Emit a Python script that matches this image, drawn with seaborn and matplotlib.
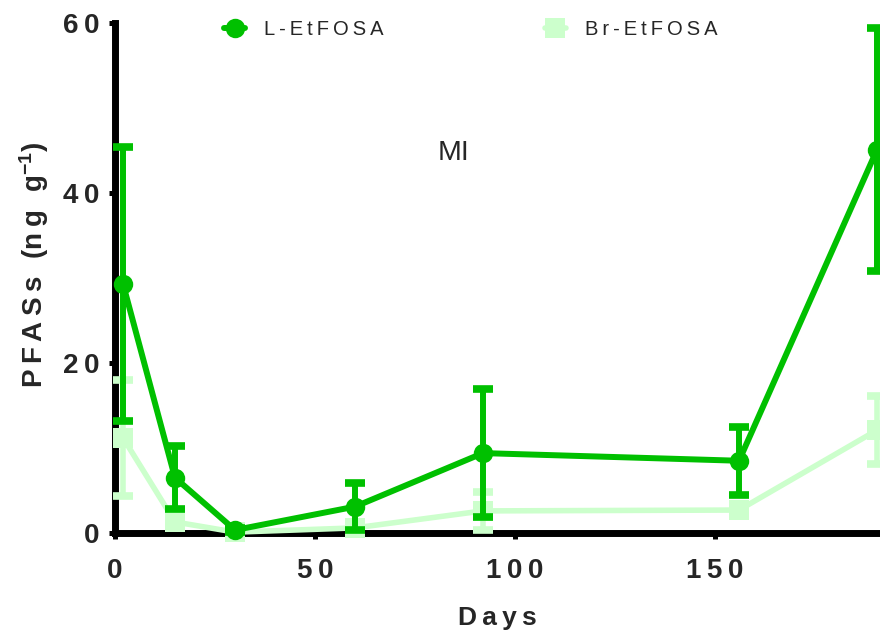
import numpy as np
import pandas as pd
import seaborn as sns
import matplotlib.pyplot as plt

# Sampling days and concentrations (mean ± error) for the two isomers
days = [2, 15, 30, 60, 92, 156, 190.5]
l_mean = [29.3, 6.5, 0.35, 3.1, 9.4, 8.5, 45.1]
l_err = [16.1, 3.7, 0.2, 2.8, 7.5, 4.0, 14.3]
br_mean = [11.2, 1.3, 0.1, 0.6, 2.6, 2.7, 12.1]
br_err = [6.8, 0.4, 0.1, 0.3, 2.2, 0.4, 4.0]

series_names = ["L-EtFOSA", "Br-EtFOSA"]
x_ticks = [0, 50, 100, 150]
y_ticks = [0, 20, 40, 60]
panel_label = "MI"

sns.set_theme(style="ticks")
plt.rcParams["font.family"] = ["Liberation Sans", "DejaVu Sans"]
plt.rcParams["mathtext.fontset"] = "custom"
plt.rcParams["mathtext.default"] = "regular"

L_COLOR = "#00C000"
BR_COLOR = "#CCFFCC"


def spaced(s, sep="\u2009"):
    return sep.join(list(s))


df = pd.DataFrame({
    "Days": days * 2,
    "value": l_mean + br_mean,
    "err": l_err + br_err,
    "isomer": [series_names[0]] * len(days) + [series_names[1]] * len(days),
})

fig = plt.figure(figsize=(8.8, 6.35), dpi=100)
ax = fig.add_axes([115 / 880, 102 / 635, 765 / 880, 510 / 635])

# Branched isomer underneath, linear isomer on top
br = df[df.isomer == series_names[1]]
ax.errorbar(br.Days, br.value, yerr=br.err, fmt="none", ecolor=BR_COLOR,
            elinewidth=4.0, capsize=7, capthick=5.5, zorder=3, clip_on=False)
sns.lineplot(data=br, x="Days", y="value", color=BR_COLOR, marker="s",
             markersize=14, markeredgewidth=0, linewidth=4.0, ax=ax,
             label=series_names[1], zorder=3, clip_on=False)

ln = df[df.isomer == series_names[0]]
ax.errorbar(ln.Days, ln.value, yerr=ln.err, fmt="none", ecolor=L_COLOR,
            elinewidth=4.3, capsize=7, capthick=5.5, zorder=4, clip_on=False)
sns.lineplot(data=ln, x="Days", y="value", color=L_COLOR, marker="o",
             markersize=14, markeredgewidth=0, linewidth=4.3, ax=ax,
             label=series_names[0], zorder=4, clip_on=False)

ax.set_xlim(0, 191.25)
ax.set_ylim(0, 60)
sns.despine(ax=ax)
for side in ("left", "bottom"):
    ax.spines[side].set_linewidth(5)
    ax.spines[side].set_color("black")
    ax.spines[side].set_zorder(2.5)

ax.set_xticks(x_ticks)
ax.set_xticklabels([spaced(str(t)) for t in x_ticks],
                   fontsize=20, fontweight="bold")
ax.set_yticks(y_ticks)
ax.set_yticklabels([spaced(str(t)) for t in y_ticks],
                   fontsize=20, fontweight="bold")
ax.tick_params(axis="x", direction="out", length=4, width=3.6, pad=14,
               color="black")
ax.tick_params(axis="y", direction="out", length=4.5, width=3.6, pad=6.5,
               color="black")

ax.set_xlabel(spaced("Days"), fontsize=19, fontweight="bold")
ax.set_ylabel(spaced("PFASs") + r"$\ \ $(" + spaced("ng") + r"$\ \ $g$^{-1}$)",
              fontsize=20, fontweight="bold")
ax.xaxis.set_label_coords(0.5, -0.143)
ax.yaxis.set_label_coords(-0.084, 0.525)

ax.text(84.5, 44.7, panel_label, fontsize=20.5, ha="center", va="center")

handles, labels = ax.get_legend_handles_labels()
order = [labels.index(n) for n in series_names]
ax.legend([handles[i] for i in order],
          [spaced(n) for n in series_names],
          loc="upper left", bbox_to_anchor=(224 / 880, 1 - 20 / 635),
          bbox_transform=fig.transFigure, ncol=2, frameon=False,
          fontsize=14.5, handlelength=1.05, handletextpad=0.95,
          columnspacing=8.0, borderpad=0, borderaxespad=0)

ax.set_facecolor("white")
fig.patch.set_facecolor("white")
fig.savefig("out.png", dpi=100)
